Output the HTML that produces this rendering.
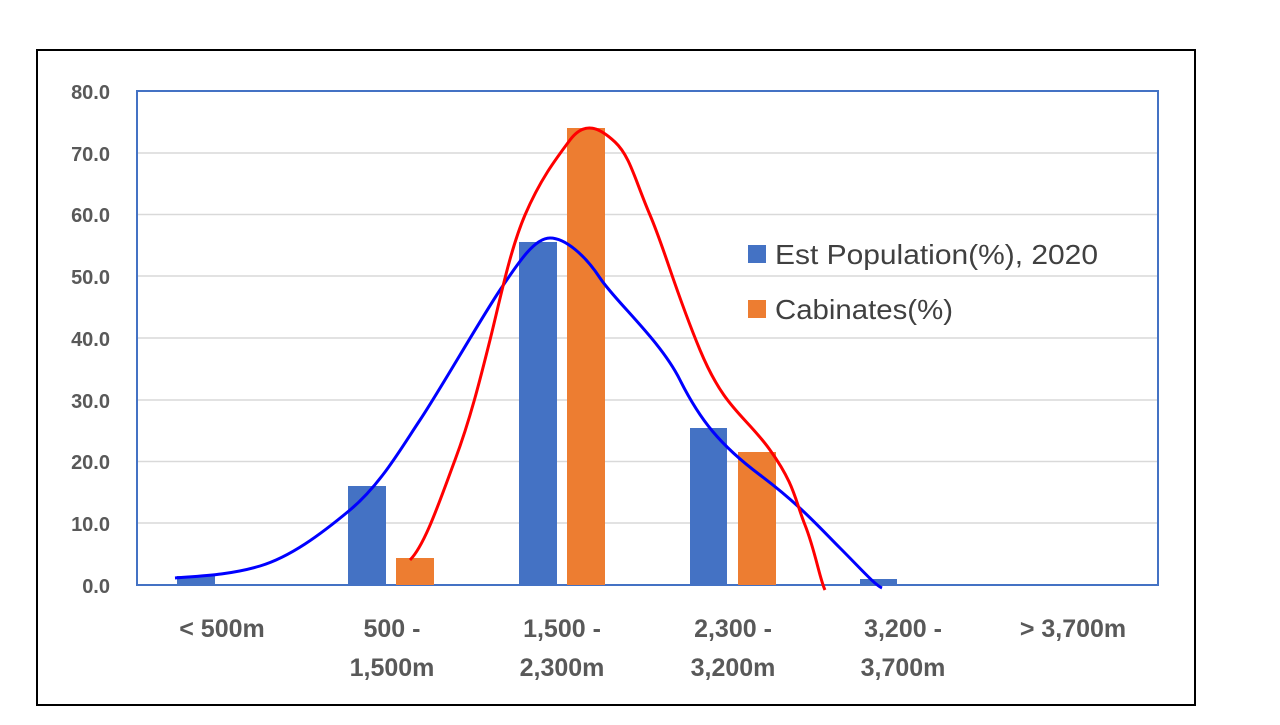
<!DOCTYPE html>
<html><head><meta charset="utf-8"><style>
body{margin:0;background:#fff;width:1280px;height:720px;overflow:hidden}
</style></head><body>
<svg width="1280" height="720" xmlns="http://www.w3.org/2000/svg" font-family="Liberation Sans, sans-serif">
<rect x="37" y="50" width="1158" height="655" fill="#fff" stroke="#000" stroke-width="2"/>
<g stroke="#d9d9d9" stroke-width="1.5">
<line x1="137" x2="1158" y1="153" y2="153"/><line x1="137" x2="1158" y1="214.5" y2="214.5"/>
<line x1="137" x2="1158" y1="276" y2="276"/><line x1="137" x2="1158" y1="338" y2="338"/>
<line x1="137" x2="1158" y1="400" y2="400"/><line x1="137" x2="1158" y1="461.5" y2="461.5"/>
<line x1="137" x2="1158" y1="523" y2="523"/>
</g>
<rect x="137" y="91" width="1021" height="494" fill="none" stroke="#4472c4" stroke-width="2"/>
<g fill="#4472c4">
<rect x="177" y="576" width="38" height="9"/><rect x="348" y="486" width="38" height="99"/>
<rect x="519" y="242" width="38" height="343"/><rect x="690" y="428" width="37" height="157"/>
<rect x="860" y="579" width="37" height="6"/>
</g>
<g fill="#ed7d31">
<rect x="396" y="558" width="38" height="27"/><rect x="567" y="128" width="38" height="457"/>
<rect x="738" y="452" width="38" height="133"/>
</g>
<path d="M175,578 C200,576 230,575 260,566 S320,535 350,510 S400,450 420,420 S480,320 500,290 S535,238 550,238 S585,255 600,278 S660,340 680,380 S720,445 760,475 S820,528 840,548 S875,585 882,588" fill="none" stroke="#0000ff" stroke-width="3"/>
<path d="M410,560 C425,545 440,500 455,460 S480,380 490,340 S510,250 525,215 S555,160 570,140 S600,128 615,142 S635,180 650,215 S675,290 700,350 S745,415 770,450 S795,500 805,525 S820,580 825,590" fill="none" stroke="#ff0000" stroke-width="3"/>
<g font-size="20" font-weight="bold" fill="#595959" text-anchor="end">
<text x="110" y="99">80.0</text><text x="110" y="161">70.0</text><text x="110" y="222">60.0</text>
<text x="110" y="284">50.0</text><text x="110" y="346">40.0</text><text x="110" y="408">30.0</text>
<text x="110" y="469">20.0</text><text x="110" y="531">10.0</text><text x="110" y="593">0.0</text>
</g>
<g font-size="25" font-weight="bold" fill="#595959" text-anchor="middle">
<text x="222" y="637">&lt; 500m</text>
<text x="392" y="637">500 -</text><text x="392" y="676">1,500m</text>
<text x="562" y="637">1,500 -</text><text x="562" y="676">2,300m</text>
<text x="733" y="637">2,300 -</text><text x="733" y="676">3,200m</text>
<text x="903" y="637">3,200 -</text><text x="903" y="676">3,700m</text>
<text x="1073" y="637">&gt; 3,700m</text>
</g>
<rect x="748" y="245" width="18" height="18" fill="#4472c4"/>
<rect x="748" y="300" width="18" height="18" fill="#ed7d31"/>
<g font-size="28" fill="#404040">
<text x="775" y="264" textLength="323" lengthAdjust="spacingAndGlyphs">Est Population(%), 2020</text>
<text x="775" y="319" textLength="178" lengthAdjust="spacingAndGlyphs">Cabinates(%)</text>
</g>
</svg>
</body></html>
